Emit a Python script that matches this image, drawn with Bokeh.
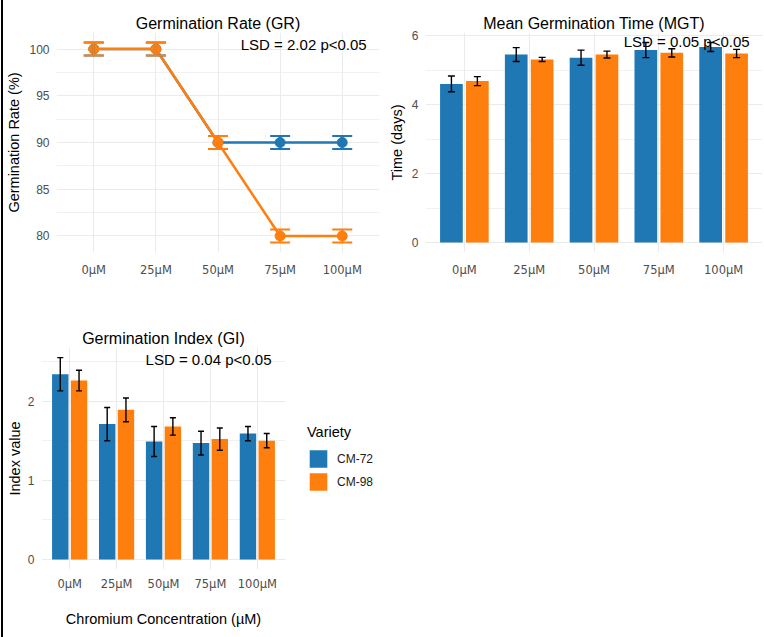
import numpy as np
from bokeh.plotting import figure
from bokeh.models import (ColumnDataSource, Range1d, FixedTicker, Whisker, TeeHead,
                          Label, Legend, LegendItem, Div, Spacer)
from bokeh.layouts import row, column
from bokeh.transform import dodge
from bokeh.embed import file_html
from bokeh.resources import INLINE

# ---- data -------------------------------------------------------------
concentrations = ["0µM", "25µM", "50µM", "75µM", "100µM"]
varieties = ["CM-72", "CM-98"]
colors = ["#1F77B4", "#FF7F0E"]

# Germination rate (%)
gr_cm72 = [100, 100, 90, 90, 90]
gr_cm98 = [100, 100, 90, 80, 80]
gr_se_cm72 = [0.7, 0.7, 0.7, 0.7, 0.7]
gr_se_cm98 = [0.7, 0.7, 0.7, 0.7, 0.7]

# Mean germination time (days)
mgt_cm72 = [4.60, 5.45, 5.36, 5.58, 5.67]
mgt_cm98 = [4.68, 5.31, 5.45, 5.50, 5.48]
mgt_se_cm72 = [0.23, 0.20, 0.22, 0.22, 0.13]
mgt_se_cm98 = [0.13, 0.06, 0.10, 0.12, 0.12]

# Germination index
gi_cm72 = [2.34, 1.71, 1.49, 1.47, 1.59]
gi_cm98 = [2.26, 1.89, 1.68, 1.52, 1.50]
gi_se_cm72 = [0.21, 0.21, 0.19, 0.15, 0.09]
gi_se_cm98 = [0.13, 0.15, 0.11, 0.14, 0.09]

lsd_gr = "2.02"
lsd_mgt = "0.05"
lsd_gi = "0.04"

# ---- styling helpers ---------------------------------------------------
FONT = "Liberation Sans"
TICK_FONT = "DejaVu Sans"
GRID = "#EBEBEB"
n = len(concentrations)
xs = list(range(1, n + 1))


def padded_range(lo, hi):
    pad = 0.05 * (hi - lo)
    return Range1d(lo - pad, hi + pad)


def make_fig(fw, fh, left, right, top, bottom, title, ylabel, y_range,
             yticks, yminor, xlabel=None, xstandoff=10, ylabel_standoff=4):
    p = figure(frame_width=fw, frame_height=fh, output_backend="svg",
               toolbar_location=None,
               min_border_left=left, min_border_right=right,
               min_border_top=top, min_border_bottom=bottom,
               x_range=Range1d(0.4, n + 0.6), y_range=y_range)
    p.outline_line_color = None
    p.background_fill_color = "white"
    p.border_fill_color = "white"

    p.title.text = title
    p.title.align = "center"
    p.title.vertical_align = "middle"
    p.title.text_font = FONT
    p.title.text_font_size = "16px"
    p.title.text_font_style = "normal"
    p.title.text_color = "#000000"
    p.title.standoff = 0

    p.xaxis.ticker = FixedTicker(ticks=xs)
    p.xaxis.major_label_overrides = {x: c for x, c in zip(xs, concentrations)}
    p.yaxis.ticker = FixedTicker(ticks=yticks, minor_ticks=yminor)

    for ax in (p.xaxis[0], p.yaxis[0]):
        ax.axis_line_color = None
        ax.major_tick_line_color = None
        ax.minor_tick_line_color = None
        ax.major_tick_out = 0
        ax.major_tick_in = 0
        ax.minor_tick_out = 0
        ax.minor_tick_in = 0
        ax.major_label_text_color = "#4D4D4D"
        ax.axis_label_text_font = FONT
        ax.axis_label_text_font_size = "14.5px"
        ax.axis_label_text_font_style = "normal"
        ax.axis_label_text_color = "#000000"
    p.xaxis.major_label_text_font = TICK_FONT
    p.xaxis.major_label_text_font_size = "11.5px"
    p.xaxis.major_label_standoff = xstandoff
    p.yaxis.major_label_text_font = FONT
    p.yaxis.major_label_text_font_size = "12px"
    p.yaxis.major_label_standoff = 7
    p.yaxis.axis_label = ylabel
    p.yaxis.axis_label_standoff = ylabel_standoff
    if xlabel:
        p.xaxis.axis_label = xlabel
        p.xaxis.axis_label_standoff = 17

    p.xgrid.ticker = FixedTicker(ticks=xs)
    p.xgrid.grid_line_color = GRID
    p.xgrid.grid_line_width = 1.1
    p.ygrid.ticker = FixedTicker(ticks=yticks, minor_ticks=yminor)
    p.ygrid.grid_line_color = GRID
    p.ygrid.grid_line_width = 1.1
    p.ygrid.minor_grid_line_color = GRID
    p.ygrid.minor_grid_line_width = 0.7
    return p


def lsd_label(p, x, y, lsd):
    p.add_layout(Label(x=x, y=y, text=f"LSD = {lsd} p<0.05", text_align="center",
                       text_baseline="middle", text_font=FONT, text_font_size="15px",
                       text_color="#000000", level="overlay"))


def error_bars(p, src, base, color, width, head, level="overlay"):
    p.add_layout(Whisker(source=src, base=base, upper="hi", lower="lo",
                         line_color=color, line_width=width, level=level,
                         upper_head=TeeHead(size=head, line_color=color, line_width=width),
                         lower_head=TeeHead(size=head, line_color=color, line_width=width)))


def series_source(means, ses):
    m = np.array(means, dtype=float)
    s = np.array(ses, dtype=float)
    return ColumnDataSource(dict(x=xs, y=m, lo=m - s, hi=m + s))


# ---- Germination Rate (line + points) -----------------------------------
gr_srcs = [series_source(gr_cm72, gr_se_cm72), series_source(gr_cm98, gr_se_cm98)]
gr_lo = min(float(s.data["lo"].min()) for s in gr_srcs)
gr_hi = max(float(s.data["hi"].max()) for s in gr_srcs)
p1 = make_fig(323, 220, 52, 4, 30, 50, "Germination Rate (GR)", "Germination Rate (%)",
              padded_range(gr_lo, gr_hi), [80, 85, 90, 95, 100], [82.5, 87.5, 92.5, 97.5])
for src, c in zip(gr_srcs, colors):
    p1.line("x", "y", source=src, line_color=c, line_width=2.5)
    p1.scatter("x", "y", source=src, size=10, fill_color=c, line_color=c)
    error_bars(p1, src, "x", c, 2, 20)
lsd_label(p1, 4.38, 100.5, lsd_gr)


# ---- grouped bar panels ---------------------------------------------------
def bar_panel(fig, means, ses, head):
    srcs = [series_source(m, s) for m, s in zip(means, ses)]
    offsets = [-0.2, 0.2]
    bars = []
    for src, c, off in zip(srcs, colors, offsets):
        bars.append(fig.vbar(x=dodge("x", off), top="y", width=0.35, source=src,
                             fill_color=c, line_color=None))
    for src, off in zip(srcs, offsets):
        error_bars(fig, src, dodge("x", off), "#000000", 1.4, head)
    return bars


mgt_hi = max(max(np.add(mgt_cm72, mgt_se_cm72)), max(np.add(mgt_cm98, mgt_se_cm98)))
p2 = make_fig(337, 220, 42, 3, 32, 48, "Mean Germination Time (MGT)", "Time (days)",
              padded_range(0, mgt_hi), [0, 2, 4, 6], [1, 3, 5])
bar_panel(p2, [mgt_cm72, mgt_cm98], [mgt_se_cm72, mgt_se_cm98], 7)
lsd_label(p2, 4.43, 5.83, lsd_mgt)

# Germination index panel; the shared legend sits in its right-hand panel
gi_hi = max(max(np.add(gi_cm72, gi_se_cm72)), max(np.add(gi_cm98, gi_se_cm98)))
p3 = make_fig(244, 222, 37, 0, 30, 68, "Germination Index (GI)", "Index value",
              padded_range(0, gi_hi), [0, 1, 2], [0.5, 1.5, 2.5],
              xlabel="Chromium Concentration (µM)", xstandoff=7, ylabel_standoff=2)
gi_bars = bar_panel(p3, [gi_cm72, gi_cm98], [gi_se_cm72, gi_se_cm98], 6)
lsd_label(p3, 3.96, 2.52, lsd_gi)

items = [LegendItem(label=name, renderers=[r]) for name, r in zip(varieties, gi_bars)]
legend = Legend(items=items, location="center_left", title="Variety",
                title_text_font=FONT, title_text_font_size="14.5px",
                title_text_font_style="normal", title_text_color="#000000",
                title_standoff=8,
                label_text_font=FONT, label_text_font_size="12px",
                label_text_color="#1A1A1A", label_standoff=8, label_height=22,
                glyph_width=22, glyph_height=22, spacing=1, padding=0, margin=22,
                border_line_color=None, background_fill_alpha=0)
p3.add_layout(legend, "right")

# ---- page ------------------------------------------------------------------
left_rule = Div(text="", width=2, height=637, margin=0,
                styles={"background-color": "#000000"})
page = row(Spacer(width=1, height=637), left_rule,
           column(row(p1, p2), Spacer(height=17), p3))

with open("out.html", "w") as f:
    f.write(file_html(page, INLINE))
